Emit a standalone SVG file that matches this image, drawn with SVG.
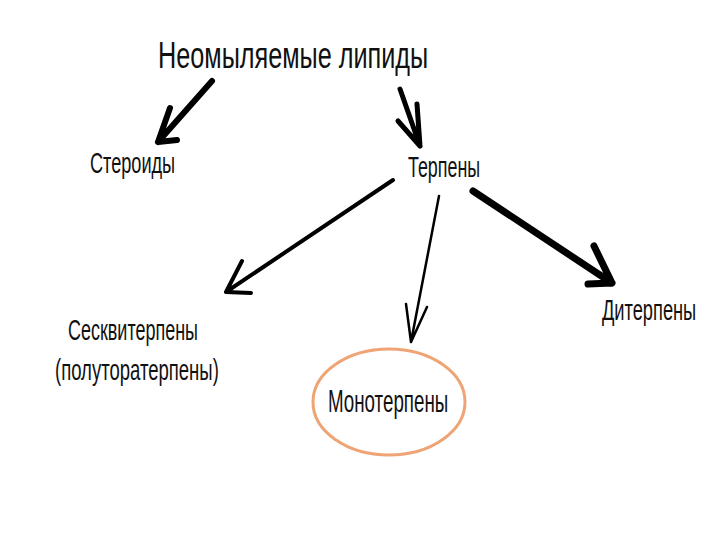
<svg xmlns="http://www.w3.org/2000/svg" width="720" height="540" viewBox="0 0 720 540">
<style>
.t{font-family:"Liberation Sans","DejaVu Sans",sans-serif;fill:#111;}
.a{fill:none;stroke:#000;stroke-linecap:round;stroke-linejoin:round;}
</style>
<rect width="720" height="540" fill="#fff"/>
<g id="connectors">
<path class="a" stroke-width="6" d="M212 81 L158 142 M170 108 L158 142 L177 140"/>
<path class="a" stroke-width="5" d="M400 89 L420 146 M398 121 L420 146 L417 104"/>
<path class="a" stroke-width="4" d="M393 180 L226 292 M242 261 L226 292 L251 293"/>
<path class="a" stroke-width="2.5" d="M439 196 L411 342 M406 304 L411 342 L427 307"/>
<path class="a" stroke-width="7" d="M473 191 L612 283 M594 246 L612 283 L588 284"/>
</g>
<g id="title"><text class="t" transform="translate(158 68) scale(0.7 1)" font-size="37" textLength="386" lengthAdjust="spacingAndGlyphs">Неомыляемые липиды</text></g>
<g id="steroids"><text class="t" transform="translate(90 173) scale(0.65 1)" font-size="29.5" textLength="131" lengthAdjust="spacingAndGlyphs">Стероиды</text></g>
<g id="terpenes"><text class="t" transform="translate(408 177) scale(0.65 1)" font-size="29.5" textLength="111" lengthAdjust="spacingAndGlyphs">Терпены</text></g>
<g id="sesquiterpenes">
<text class="t" transform="translate(68 340) scale(0.65 1)" font-size="29.5" textLength="200" lengthAdjust="spacingAndGlyphs">Сесквитерпены</text>
<text class="t" transform="translate(55 380) scale(0.65 1)" font-size="29.5" textLength="252" lengthAdjust="spacingAndGlyphs">(полуторатерпены)</text>
</g>
<g id="monoterpenes">
<ellipse cx="389" cy="402" rx="76" ry="53" fill="none" stroke="#EEA474" stroke-width="3"/>
<text class="t" transform="translate(328 412) scale(0.65 1)" font-size="31" textLength="185" lengthAdjust="spacingAndGlyphs">Монотерпены</text>
</g>
<g id="diterpenes"><text class="t" transform="translate(602 320) scale(0.65 1)" font-size="29.5" textLength="145" lengthAdjust="spacingAndGlyphs">Дитерпены</text></g>
</svg>
